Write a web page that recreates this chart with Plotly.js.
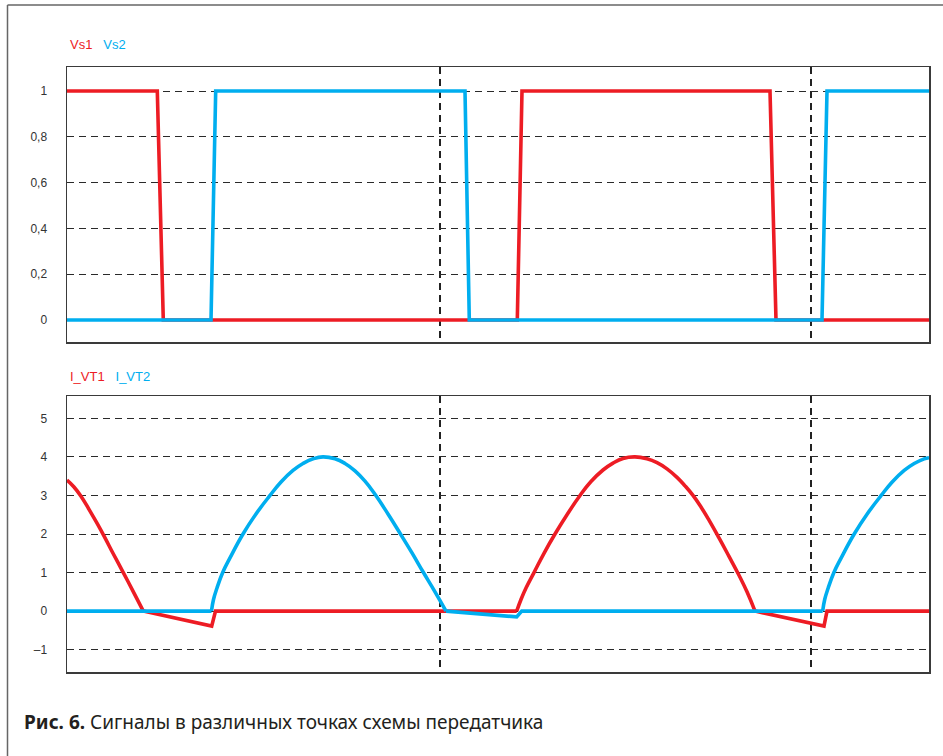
<!DOCTYPE html>
<html>
<head>
<meta charset="utf-8">
<script src="https://cdn.plot.ly/plotly-3.0.1.min.js"></script>
<style>html,body{margin:0;padding:0;background:#fff;}#chart{width:943px;height:756px;}</style>
</head>
<body>
<div id="chart"></div>
<script>
// time axis (arbitrary units, no tick labels in the original)
const tVs1 = [0, 90.3, 96.3, 450.3, 455, 703, 709, 862];
const vVs1 = [1, 1, 0, 0, 1, 1, 0, 0];
const tVs2 = [0, 144, 148.7, 398, 402.3, 755, 760, 862];
const vVs2 = [0, 0, 1, 1, 0, 0, 1, 1];

const tIVT1 = [0, 7, 14, 22, 30, 38, 46, 56.3, 66, 76.3, 144.7, 148.5, 449.7,
  454, 459, 467, 477, 488, 500, 513, 524, 536, 546, 556, 568,
  580, 590, 600, 610, 618, 626, 634, 642, 652, 662, 672, 680, 688, 757, 760, 862];
const vIVT1 = [3.4, 3.22, 2.98, 2.64, 2.28, 1.9, 1.5, 1.0, 0.52, 0, -0.39, 0, 0,
  0.3, 0.6, 1.0, 1.5, 2.0, 2.5, 3.0, 3.36, 3.66, 3.84, 3.96, 4.0,
  3.95, 3.85, 3.69, 3.47, 3.25, 3.0, 2.7, 2.36, 1.9, 1.42, 0.93, 0.5, 0, -0.39, 0, 0];

const tIVT2 = [0, 144.5, 146.5, 150, 155.7, 163, 176, 189, 203, 214, 226, 236, 246, 256,
  268, 278, 288, 298, 308, 321, 333, 345, 356, 368, 379, 449.7, 454.7, 755.7,
  757.7, 761.2, 766.9, 774.2, 787.2, 800.2, 814.2, 825.2, 837.2, 847.2, 857.2, 862];
const vIVT2 = [0, 0, 0.3, 0.6, 1.0, 1.38, 2.0, 2.52, 3.0, 3.35, 3.65, 3.83, 3.95, 4.0,
  3.95, 3.83, 3.64, 3.37, 3.03, 2.52, 2.02, 1.51, 1.02, 0.5, 0, -0.15, 0, 0,
  0.3, 0.6, 1.0, 1.38, 2.0, 2.52, 3.0, 3.35, 3.65, 3.83, 3.95, 3.98];

const topTickVals = [0, 0.2, 0.4, 0.6, 0.8, 1];
const topTickText = ['0', '0,2', '0,4', '0,6', '0,8', '1'];
const botTickVals = [-1, 0, 1, 2, 3, 4, 5];
const botTickText = ['\u20131', '0', '1', '2', '3', '4', '5'];
const markerTimes = [373, 744];

const RED = '#ED1C24', BLUE = '#00AEEF';
const lw = 3.6;

// split a series into linear pieces and smooth (curved current pulse) pieces
function pieces(t, v, smoothRanges, color) {
  const out = [];
  const cuts = [];
  smoothRanges.forEach(r => { cuts.push(r[0], r[1]); });
  const bounds = [0].concat(cuts, [t.length - 1]);
  for (let k = 0; k < bounds.length - 1; k++) {
    const a = bounds[k], b = bounds[k + 1];
    if (b <= a) continue;
    const isSmooth = smoothRanges.some(r => r[0] === a && r[1] === b);
    out.push({
      x: t.slice(a, b + 1), y: v.slice(a, b + 1), xaxis: 'x', yaxis: 'y', mode: 'lines',
      line: {color: color, width: lw, shape: isSmooth ? 'spline' : 'linear', smoothing: 1.3},
      hoverinfo: 'skip'
    });
  }
  return out;
}

const iPeak1End = tIVT1.indexOf(76.3), iPulse1Start = tIVT1.indexOf(449.7), iPulse1End = tIVT1.indexOf(688);
const jPulseStart = tIVT2.indexOf(144.5), jPulseEnd = tIVT2.indexOf(379), jPulse2Start = tIVT2.indexOf(755.7);

const traces = [
  {x: tVs1, y: vVs1, xaxis: 'x2', yaxis: 'y2', mode: 'lines', line: {color: RED, width: lw}},
  {x: tVs2, y: vVs2, xaxis: 'x2', yaxis: 'y2', mode: 'lines', line: {color: BLUE, width: lw}}
].concat(
  pieces(tIVT1, vIVT1, [[0, iPeak1End], [iPulse1Start, iPulse1End]], RED),
  pieces(tIVT2, vIVT2, [[jPulseStart, jPulseEnd], [jPulse2Start, tIVT2.length - 1]], BLUE)
);

const gridDash = '7px,5px';
const xCommon = {
  range: [0, 862], tickvals: markerTimes, showticklabels: false, ticks: '',
  showgrid: true, gridcolor: '#222', gridwidth: 1.1, griddash: gridDash,
  zeroline: false, showline: true, mirror: true, linecolor: '#3a3a3a', linewidth: 1.5,
  fixedrange: true
};
const yCommon = {
  showgrid: true, gridcolor: '#2a2a2a', gridwidth: 1, griddash: gridDash,
  zeroline: false, showline: true, mirror: true, linecolor: '#3a3a3a', linewidth: 1.5,
  ticks: '', ticklabelstandoff: 16, tickfont: {family: 'Liberation Sans, Arial, sans-serif', size: 12, color: '#333'}
};

const W = 862, H = 605, L = 67;
const px = v => (v - L) / W;
const py = v => (L + H - v) / H;

const layout = {
  width: 943, height: 756,
  margin: {l: 67, r: 14, t: 67, b: 84},
  paper_bgcolor: '#fff', plot_bgcolor: '#fff',
  showlegend: false,
  xaxis: Object.assign({}, xCommon, {anchor: 'y'}),
  yaxis: Object.assign({}, yCommon, {domain: [0, py(396)], range: [-1.58, 5.58], tickvals: botTickVals, ticktext: botTickText, anchor: 'x'}),
  xaxis2: Object.assign({}, xCommon, {anchor: 'y2'}),
  yaxis2: Object.assign({}, yCommon, {domain: [py(342), 1], range: [-0.096, 1.105], tickvals: topTickVals, ticktext: topTickText, anchor: 'x2'}),
  shapes: [
    {type: 'line', xref: 'paper', yref: 'paper', x0: px(7.5), x1: px(943), y0: py(5), y1: py(5), line: {color: '#666', width: 1.5}},
    {type: 'line', xref: 'paper', yref: 'paper', x0: px(7.5), x1: px(7.5), y0: py(5), y1: py(756), line: {color: '#666', width: 1.5}}
  ],
  annotations: [
    {xref: 'paper', yref: 'paper', x: px(68), y: py(45), xanchor: 'left', yanchor: 'middle', showarrow: false,
     text: '<span style="color:' + RED + '">Vs1</span>   <span style="color:' + BLUE + '">Vs2</span>',
     font: {family: 'Liberation Sans, Arial, sans-serif', size: 13}},
    {xref: 'paper', yref: 'paper', x: px(68), y: py(376), xanchor: 'left', yanchor: 'middle', showarrow: false,
     text: '<span style="color:' + RED + '">I_VT1</span>   <span style="color:' + BLUE + '">I_VT2</span>',
     font: {family: 'Liberation Sans, Arial, sans-serif', size: 13}},
    {xref: 'paper', yref: 'paper', x: px(22), y: py(722), xanchor: 'left', yanchor: 'middle', showarrow: false,
     text: '<b>Рис. 6.</b> Сигналы в различных точках схемы передатчика',
     font: {family: 'Noto Sans, Open Sans, sans-serif', size: 19, color: '#231f20'}}
  ]
};

Plotly.newPlot('chart', traces, layout, {displayModeBar: false, staticPlot: true});
</script>
</body>
</html>
